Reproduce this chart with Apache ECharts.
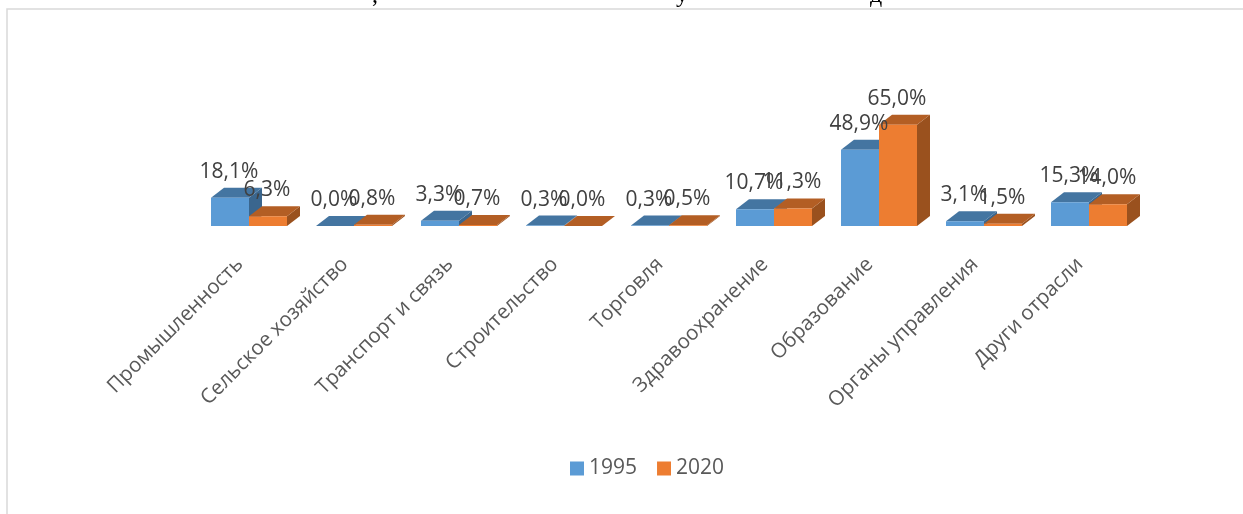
<!DOCTYPE html>
<html><head><meta charset="utf-8">
<style>html,body{margin:0;padding:0;background:#fff}#c{width:1243px;height:514px}</style>
<script src="https://cdn.jsdelivr.net/npm/echarts@6/dist/echarts.min.js"></script>
</head><body><div id="c"></div>
<script>
const categories = ['Промышленность','Сельское хозяйство','Транспорт и связь','Строительство','Торговля','Здравоохранение','Образование','Органы управления','Други отрасли'];
const values1995 = [18.1,0.0,3.3,0.3,0.3,10.7,48.9,3.1,15.3];
const values2020 = [6.3,0.8,0.7,0.0,0.5,11.3,65.0,1.5,14.0];
const clippedTitleGlyphs = [[',',372],['у',676],['д',870]];
const labelFont = 'Open Sans';
const depthX = 13, depthY = 10, barW = 38;
function fmt(v){return v.toFixed(1).replace('.',',')+'%';}
function bar3d(offsetIdx, front, top, side){
  return function(params, api){
    const i = api.value(0), v = api.value(1);
    const base = api.coord([i,0]), head = api.coord([i,v]);
    const x0 = base[0] + (offsetIdx-1)*barW, x1 = x0 + barW;
    const yb = base[1], yt = head[1];
    return {type:'group',children:[
      {type:'polygon',shape:{points:[[x1,yb],[x1+depthX,yb-depthY],[x1+depthX,yt-depthY],[x1,yt]]},style:{fill:side},z2:offsetIdx},
      {type:'polygon',shape:{points:[[x0,yt],[x0+depthX,yt-depthY],[x1+depthX,yt-depthY],[x1,yt]]},style:{fill:top},z2:offsetIdx},
      {type:'rect',shape:{x:x0,y:yt,width:barW,height:yb-yt},style:{fill:front},z2:offsetIdx},
      {type:'text',x:(x0+x1)/2-1,y:yt-26,style:{text:fmt(v),fill:'#404040',font:'21px "'+labelFont+'"',align:'center',verticalAlign:'middle'},z2:10}
    ]};
  };
}
function seriesData(arr){return arr.map((v,i)=>[i,v]);}
const chart = echarts.init(document.getElementById('c'),null,{renderer:'canvas'});
chart.setOption({
  animation:false,
  backgroundColor:'#fff',
  grid:{left:196.5,width:945,top:117,bottom:288},
  xAxis:{type:'category',data:categories,axisLine:{show:false},axisTick:{show:false},
    axisLabel:{rotate:45,interval:0,color:'#595959',fontFamily:labelFont,fontSize:20.5,margin:26,padding:[0,13,0,0]}},
  yAxis:{type:'value',min:0,max:70,show:false},
  legend:{left:565,top:453,itemWidth:14,itemHeight:14,itemGap:20,icon:'rect',
    textStyle:{color:'#595959',fontFamily:labelFont,fontSize:21},data:['1995','2020']},
  graphic:[
    {type:'rect',shape:{x:7,y:9,width:1240,height:510},style:{fill:'none',stroke:'#d9d9d9',lineWidth:1.5},silent:true}
  ].concat(clippedTitleGlyphs.map(g=>({type:'text',x:g[1],y:8,silent:true,
    style:{text:g[0],fill:'#000',font:'24px "Liberation Serif"',align:'left',verticalAlign:'bottom'}}))),
  series:[
    {name:'1995',type:'custom',clip:false,itemStyle:{color:'#5b9bd5'},encode:{x:0,y:1},data:seriesData(values1995),renderItem:bar3d(0,'#5b9bd5','#4475a1','#3a668e')},
    {name:'2020',type:'custom',clip:false,itemStyle:{color:'#ed7d31'},encode:{x:0,y:1},data:seriesData(values2020),renderItem:bar3d(1,'#ed7d31','#b35e24','#9a511e')}
  ]
});
</script></body></html>
